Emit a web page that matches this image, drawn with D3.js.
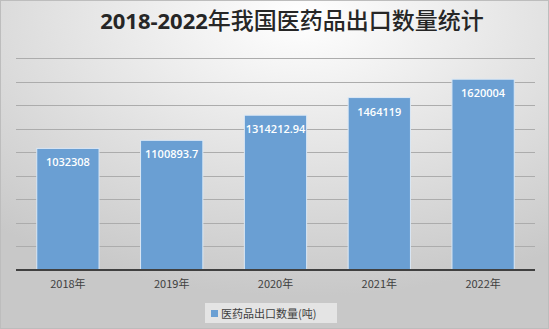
<!DOCTYPE html>
<meta charset='utf-8'>
<style>
body { margin: 0; background: #fff; }
svg { display: block; }
</style>
<body>
<div class='chart'></div>
<script src='https://d3js.org/d3.v7.min.js'></script>
<script>
var years = ['2018年', '2019年', '2020年', '2021年', '2022年'];
var exportTons = [1032308, 1100893.7, 1314212.94, 1464119, 1620004];
var labels = ['1032308', '1100893.7', '1314212.94', '1464119', '1620004'];
var gridTicks = [0, 200000, 400000, 600000, 800000, 1000000, 1200000, 1400000, 1600000, 1800000];

var width = 549, height = 329;
var margin = {top: 58, right: 14, bottom: 59, left: 16};

var svg = d3.select('.chart').append('svg')
    .attr('width', width)
    .attr('height', height);

var defs = svg.append('defs');
var bg = defs.append('radialGradient')
    .attr('id', 'bg')
    .attr('cx', '55%').attr('cy', '5%')
    .attr('r', '85%');
bg.append('stop').attr('offset', '0%').attr('stop-color', '#ffffff');
bg.append('stop').attr('offset', '100%').attr('stop-color', '#c8c8c8');

svg.append('rect')
    .attr('width', width).attr('height', height)
    .attr('fill', 'url(#bg)');
svg.append('rect')
    .attr('x', 0.5).attr('y', 0.5)
    .attr('width', width - 1).attr('height', height - 1)
    .attr('fill', 'none').attr('stroke', '#bdbdbd');

var x = d3.scaleBand()
    .domain(years)
    .range([margin.left, width - margin.right])
    .paddingInner(0.4)
    .paddingOuter(0.2);

var y = d3.scaleLinear()
    .domain([0, 1800000])
    .range([height - margin.bottom, margin.top]);

// gridlines
svg.append('g')
    .selectAll('line')
    .data(gridTicks.slice(1))
    .enter().append('line')
    .attr('x1', margin.left)
    .attr('x2', width - margin.right)
    .attr('y1', function(d) { return Math.round(y(d)) + 0.5; })
    .attr('y2', function(d) { return Math.round(y(d)) + 0.5; })
    .attr('stroke', '#acacac')
    .attr('stroke-width', 1);

// bars
svg.append('g')
    .selectAll('rect')
    .data(exportTons)
    .enter().append('rect')
    .attr('x', function(d, i) { return x(years[i]); })
    .attr('y', function(d) { return y(d); })
    .attr('width', x.bandwidth())
    .attr('height', function(d) { return y(0) - y(d); })
    .attr('fill', '#6a9fd3')
    .attr('stroke', '#dbe8f5')
    .attr('stroke-width', 1);

// value labels
svg.append('g')
    .selectAll('text')
    .data(exportTons)
    .enter().append('text')
    .attr('x', function(d, i) { return x(years[i]) + x.bandwidth() / 2; })
    .attr('y', function(d) { return y(d) + 18; })
    .attr('text-anchor', 'middle')
    .attr('fill', '#ffffff')
    .style('font', '600 11px "Open Sans", sans-serif')
    .text(function(d, i) { return labels[i]; });

// x axis
var xAxis = svg.append('g')
    .attr('transform', 'translate(0,' + y(0) + ')')
    .call(d3.axisBottom(x).tickSize(0).tickPadding(10));
xAxis.select('.domain')
    .attr('d', 'M' + margin.left + ',0H' + (width - margin.right))
    .attr('stroke', '#404040')
    .attr('stroke-width', 2);
xAxis.selectAll('text')
    .attr('fill', '#404040')
    .style('font', '11px "Noto Sans CJK SC", sans-serif');

// title: bold digits, regular CJK
var title = svg.append('text')
    .attr('x', 292)
    .attr('y', 29)
    .attr('text-anchor', 'middle')
    .attr('fill', '#262626');
title.append('tspan')
    .style('font', 'bold 22px "Open Sans", sans-serif')
    .text('2018-2022');
title.append('tspan')
    .style('font', '500 23px "Noto Sans CJK SC", sans-serif')
    .text('年我国医药品出口数量统计');

// legend
var legend = svg.append('g').attr('transform', 'translate(205,303)');
legend.append('rect')
    .attr('x', 0).attr('y', 0)
    .attr('width', 132).attr('height', 20)
    .attr('fill', '#e4e4e4');
legend.append('rect')
    .attr('x', 6).attr('y', 7)
    .attr('width', 7).attr('height', 7)
    .attr('fill', '#6a9fd3');
legend.append('text')
    .attr('x', 16).attr('y', 15)
    .attr('fill', '#404040')
    .style('font', '11px "Noto Sans CJK SC", sans-serif')
    .text('医药品出口数量(吨)');
</script>
</body>
